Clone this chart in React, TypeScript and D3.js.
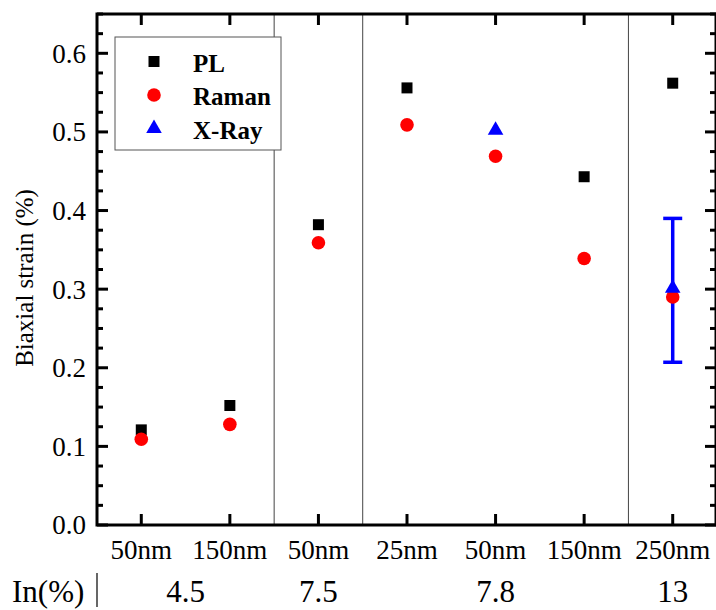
import React from "react";
import * as d3 from "d3";

const categories = ["50nm", "150nm", "50nm", "25nm", "50nm", "150nm", "250nm"];
const plValues: (number | null)[] = [0.121, 0.152, 0.382, 0.556, null, 0.443, 0.562];
const ramanValues: (number | null)[] = [0.109, 0.128, 0.359, 0.509, 0.469, 0.339, 0.29];
const xrayValues: (number | null)[] = [null, null, null, null, 0.501, null, 0.3];
const xrayErrLow: (number | null)[] = [null, null, null, null, null, null, 0.207];
const xrayErrHigh: (number | null)[] = [null, null, null, null, null, null, 0.39];
const groupLabels = ["4.5", "7.5", "7.8", "13"];
const groupStart = [0, 2, 3, 6];
const groupEnd = [1, 2, 5, 6];
const separators = [1.5, 2.5, 5.5];
const yTicks = [0, 0.1, 0.2, 0.3, 0.4, 0.5, 0.6];
const legendItems = ["PL", "Raman", "X-Ray"];

const W = 716;
const H = 610;
const left = 97;
const right = 716;
const top = 14;
const bottom = 525;
const serif = "Liberation Serif, DejaVu Serif, serif";

export default function App() {
  const x = d3.scaleLinear().domain([-0.5, 6.5]).range([left, right + 1]);
  const y = d3.scaleLinear().domain([0, 0.65]).range([bottom, top]);
  const minor = d3.range(0, 0.651, 0.025).filter((v) => Math.abs(Math.round(v * 10) - v * 10) > 0.01);
  const sq = d3.symbol().type(d3.symbolSquare).size(121)()!;
  const ci = d3.symbol().type(d3.symbolCircle).size(145)()!;
  const tr = d3.symbol().type(d3.symbolTriangle).size(105)()!;
  const ts = (size: number, bold = false) => ({ fontFamily: serif, fontSize: size, fontWeight: bold ? 700 : 400 });

  return (
    <svg width={W} height={H} style={{ position: "absolute", left: 0, top: 0, background: "#fff" }}>
      {separators.map((s, i) => (
        <line key={"sep" + i} x1={x(s)} x2={x(s)} y1={top} y2={bottom} stroke="#444" strokeWidth={1} />
      ))}
      {yTicks.map((t) => (
        <g key={"yt" + t}>
          <line x1={left} x2={left + 11} y1={y(t)} y2={y(t)} stroke="#000" strokeWidth={3} />
          <line x1={right - 11} x2={right} y1={y(t)} y2={y(t)} stroke="#000" strokeWidth={3} />
          <text x={86} y={y(t)} dy="0.35em" textAnchor="end" style={ts(27)}>{t.toFixed(1)}</text>
        </g>
      ))}
      {minor.map((t) => (
        <g key={"ym" + t}>
          <line x1={left} x2={left + 6} y1={y(t)} y2={y(t)} stroke="#000" strokeWidth={3} />
          <line x1={right - 6} x2={right} y1={y(t)} y2={y(t)} stroke="#000" strokeWidth={3} />
        </g>
      ))}
      {categories.map((c, i) => (
        <g key={"xt" + i}>
          <line x1={x(i)} x2={x(i)} y1={bottom} y2={bottom - 11} stroke="#000" strokeWidth={3} />
          <line x1={x(i)} x2={x(i)} y1={top} y2={top + 11} stroke="#000" strokeWidth={3} />
          <text x={x(i)} y={559} textAnchor="middle" style={ts(27)}>{c}</text>
        </g>
      ))}
      <rect x={left} y={top} width={right - left} height={bottom - top} fill="none" stroke="#000" strokeWidth={3} />
      <text transform={`translate(33,278) rotate(-90)`} textAnchor="middle" style={ts(25)}>Biaxial strain (%)</text>
      <text x={12} y={602} style={ts(31)}>In(%)</text>
      <line x1={97} x2={97} y1={573} y2={607} stroke="#000" strokeWidth={1.2} />
      {groupLabels.map((g, i) => (
        <text key={"g" + i} x={(x(groupStart[i]) + x(groupEnd[i])) / 2} y={602} textAnchor="middle" style={ts(31)}>{g}</text>
      ))}
      {xrayValues.map((v, i) =>
        xrayErrLow[i] != null && xrayErrHigh[i] != null ? (
          <g key={"eb" + i} stroke="#0000ff" strokeWidth={3.5}>
            <line x1={x(i)} x2={x(i)} y1={y(xrayErrLow[i]!)} y2={y(xrayErrHigh[i]!)} />
            <line x1={x(i) - 9.5} x2={x(i) + 9.5} y1={y(xrayErrLow[i]!)} y2={y(xrayErrLow[i]!)} />
            <line x1={x(i) - 9.5} x2={x(i) + 9.5} y1={y(xrayErrHigh[i]!)} y2={y(xrayErrHigh[i]!)} />
          </g>
        ) : null
      )}
      {plValues.map((v, i) =>
        v != null ? <path key={"pl" + i} d={sq} transform={`translate(${x(i)},${y(v)})`} fill="#000" /> : null
      )}
      {ramanValues.map((v, i) =>
        v != null ? <path key={"ra" + i} d={ci} transform={`translate(${x(i)},${y(v)})`} fill="#ff0000" /> : null
      )}
      {xrayValues.map((v, i) =>
        v != null ? <path key={"xr" + i} d={tr} transform={`translate(${x(i)},${y(v) - 1})`} fill="#0000ff" /> : null
      )}
      <rect x={115} y={37} width={166} height={113} fill="#fff" stroke="#555" strokeWidth={1} />
      {legendItems.map((l, i) => {
        const cy = 61.5 + i * 33.5;
        const d = i === 0 ? sq : i === 1 ? ci : tr;
        const fill = i === 0 ? "#000" : i === 1 ? "#ff0000" : "#0000ff";
        return (
          <g key={"lg" + i}>
            <path d={d} transform={`translate(154,${cy})`} fill={fill} />
            <text x={193} y={cy + 10} style={ts(25, true)}>{l}</text>
          </g>
        );
      })}
    </svg>
  );
}
